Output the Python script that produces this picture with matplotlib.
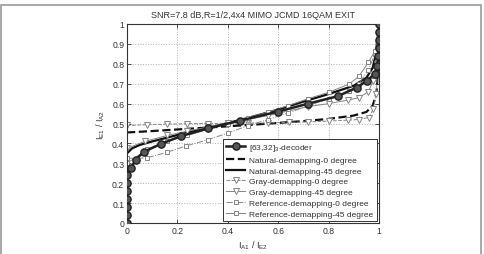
import matplotlib
matplotlib.use('Agg')
import matplotlib.pyplot as plt
from matplotlib.patches import Rectangle

plt.rcParams['font.family'] = ['Liberation Sans', 'DejaVu Sans']
plt.rcParams['mathtext.fontset'] = 'custom'
plt.rcParams['mathtext.rm'] = 'Liberation Sans'
plt.rcParams['mathtext.it'] = 'Liberation Sans'

# decoder curve (circles)
dec_x = [0, 0, 0, 0, 0, 0, 0, 0.016, 0.034, 0.067, 0.134, 0.213, 0.323, 0.45, 0.6, 0.72,
         0.836, 0.911, 0.952, 0.983, 0.993, 0.997, 1, 1, 1, 1]
dec_y = [0, 0.04, 0.08, 0.12, 0.16, 0.20, 0.24, 0.275, 0.318, 0.358, 0.397, 0.436, 0.476,
         0.515, 0.56, 0.60, 0.637, 0.68, 0.715, 0.75, 0.79, 0.84, 0.88, 0.92, 0.96, 1.0]

# natural demapping
nat0_x = [0, 0.1, 0.2, 0.3, 0.4, 0.5, 0.6, 0.7, 0.8, 0.9, 0.95, 0.975, 0.99, 0.997, 1]
nat0_y = [0.455, 0.462, 0.47, 0.478, 0.486, 0.494, 0.503, 0.512, 0.523, 0.54, 0.558, 0.59,
          0.65, 0.8, 1.0]
nat45_x = [0, 0.02, 0.05, 0.1, 0.2, 0.3, 0.4, 0.5, 0.6, 0.7, 0.8, 0.9, 0.95, 0.975, 0.99, 1]
nat45_y = [0.35, 0.375, 0.392, 0.41, 0.442, 0.472, 0.502, 0.535, 0.57, 0.61, 0.648, 0.69,
           0.73, 0.78, 0.86, 1.0]

# gray demapping (triangles)
gray0_x = [0, 0.08, 0.16, 0.24, 0.32, 0.4, 0.48, 0.56, 0.644, 0.72, 0.8, 0.878, 0.92, 0.96,
           0.977, 0.99, 1]
gray0_y = [0.49, 0.494, 0.497, 0.499, 0.5, 0.501, 0.502, 0.503, 0.506, 0.508, 0.512, 0.517,
           0.52, 0.53, 0.573, 0.65, 1.0]
gray45_x = [0, 0.07, 0.16, 0.24, 0.32, 0.4, 0.48, 0.56, 0.64, 0.72, 0.8, 0.878, 0.92, 0.958,
            0.977, 0.993, 1]
gray45_y = [0.375, 0.41, 0.44, 0.462, 0.482, 0.502, 0.52, 0.54, 0.563, 0.585, 0.6, 0.618,
            0.63, 0.66, 0.715, 0.8, 1.0]

# reference demapping (squares)
ref0_x = [0, 0.078, 0.157, 0.236, 0.32, 0.4, 0.48, 0.56, 0.64, 0.72, 0.8, 0.882, 0.92, 0.958,
          0.984, 1]
ref0_y = [0.325, 0.327, 0.355, 0.388, 0.418, 0.452, 0.489, 0.52, 0.553, 0.59, 0.625, 0.665,
          0.7, 0.77, 0.85, 1.0]
ref45_x = [0, 0.08, 0.16, 0.24, 0.32, 0.4, 0.48, 0.56, 0.64, 0.72, 0.8, 0.882, 0.92, 0.958,
           0.984, 1]
ref45_y = [0.3, 0.37, 0.41, 0.44, 0.47, 0.5, 0.528, 0.558, 0.59, 0.625, 0.657, 0.698, 0.737,
           0.807, 0.866, 1.0]

xticks = [0, 0.2, 0.4, 0.6, 0.8, 1]
xticklabels = ['0', '0.2', '0.4', '0.6', '0.8', '1']
yticks = [0, 0.1, 0.2, 0.3, 0.4, 0.5, 0.6, 0.7, 0.8, 0.9, 1]
yticklabels = ['0', '0.1', '0.2', '0.3', '0.4', '0.5', '0.6', '0.7', '0.8', '0.9', '1']

fig = plt.figure(figsize=(4.85, 2.55), dpi=100)
ax = fig.add_axes([127 / 485, 1 - 224 / 255, 252 / 485, 199 / 255])

lgray = '#858585'
ax.plot(dec_x, dec_y, '-o', color='#202020', lw=1.8, ms=5.2, mfc='#555555', mec='#202020',
        mew=1.0, label='[63,32]$_3$-decoder', zorder=5)
ax.plot(nat0_x, nat0_y, '--', color='#111111', lw=1.6, label='Natural-demapping-0 degree')
ax.plot(nat45_x, nat45_y, '-', color='#111111', lw=1.6, label='Natural-demapping-45 degree')
ax.plot(gray0_x, gray0_y, '--v', color=lgray, lw=0.7, ms=3.8, mfc='white', mec=lgray,
        mew=0.7, label='Gray-demapping-0 degree')
ax.plot(gray45_x, gray45_y, '-v', color=lgray, lw=0.7, ms=3.8, mfc='white', mec=lgray,
        mew=0.7, label='Gray-demapping-45 degree')
ax.plot(ref0_x, ref0_y, '-.s', color=lgray, lw=0.7, ms=3.3, mfc='white', mec=lgray,
        mew=0.7, label='Reference-demapping-0 degree')
ax.plot(ref45_x, ref45_y, '-s', color=lgray, lw=0.7, ms=3.3, mfc='white', mec=lgray,
        mew=0.7, label='Reference-demapping-45 degree')

ax.set_xlim(0, 1)
ax.set_ylim(0, 1)
ax.set_xticks(xticks)
ax.set_xticklabels(xticklabels)
ax.set_yticks(yticks)
ax.set_yticklabels(yticklabels)
ax.tick_params(direction='in', labelsize=6.2, length=3, width=0.6, top=True, right=True,
               pad=2, colors='#333333')
ax.grid(True, linestyle=':', color='#b0b0b0', lw=0.7)
for s in ax.spines.values():
    s.set_linewidth(0.8)
    s.set_color('#333333')

ax.set_title('SNR=7.8 dB,R=1/2,4x4 MIMO JCMD 16QAM EXIT', fontsize=6.5, pad=5,
             color='#333333')
ax.set_xlabel('I$_{A1}$ / I$_{E2}$', fontsize=6.5, labelpad=3, color='#333333')
ax.set_ylabel('I$_{E1}$ / I$_{A2}$', fontsize=6.5, labelpad=4, color='#333333')

leg = ax.legend(loc='lower right', fontsize=6, handlelength=2.3, labelspacing=0.35,
                borderaxespad=0.25, fancybox=False, framealpha=1, borderpad=0.4,
                handletextpad=0.5)
leg.get_frame().set_edgecolor('#333333')
leg.get_frame().set_linewidth(0.7)
for t in leg.get_texts():
    t.set_color('#333333')

fig.patches.append(Rectangle((0.002, -0.05), 480 / 485, 1.05 - 6 / 255, transform=fig.transFigure,
                             fill=False, edgecolor='#999999', lw=1.2))

fig.savefig('out.png', dpi=100)
